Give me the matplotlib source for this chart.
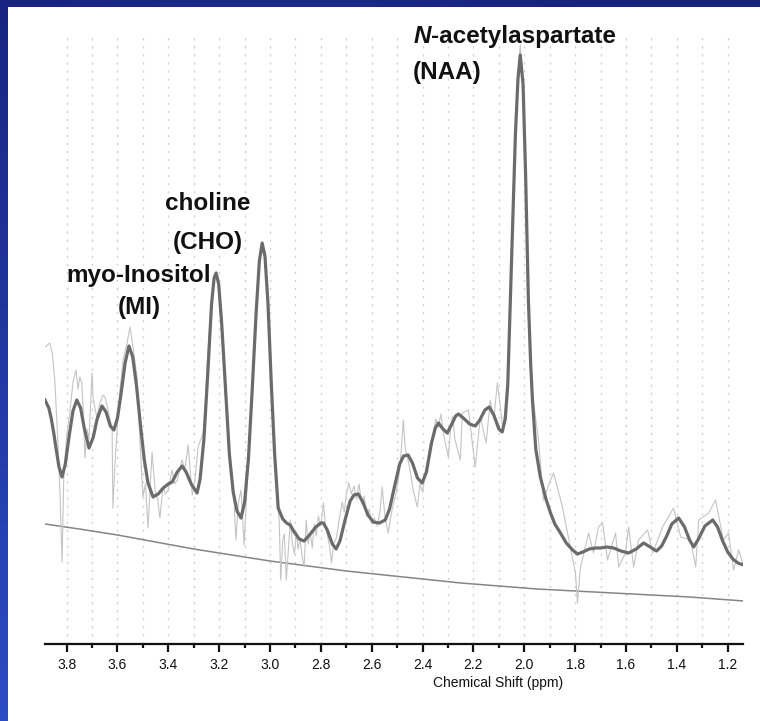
import numpy as np
import matplotlib
matplotlib.use("Agg")
import matplotlib.pyplot as plt
from matplotlib.patches import Rectangle
from matplotlib.ticker import MultipleLocator, FormatStrFormatter

plt.rcParams['font.family'] = ['Liberation Sans', 'DejaVu Sans']

# ---------------- data (ppm, arbitrary intensity) ----------------
fit_ppm = [3.885, 3.87, 3.86, 3.85, 3.84, 3.83, 3.818, 3.805, 3.79, 3.775, 3.76, 3.745, 3.73, 3.712,
           3.695, 3.68, 3.661, 3.645, 3.628, 3.614, 3.60, 3.585, 3.57, 3.555, 3.54, 3.525, 3.51, 3.495,
           3.48, 3.46, 3.44, 3.42, 3.40, 3.385, 3.365, 3.346, 3.33, 3.31, 3.287, 3.275, 3.26, 3.245,
           3.23, 3.22, 3.212, 3.202, 3.19, 3.175, 3.16, 3.145, 3.13, 3.114, 3.10, 3.085, 3.07, 3.055,
           3.042, 3.031, 3.02, 3.008, 2.995, 2.982, 2.968, 2.95, 2.935, 2.921, 2.905, 2.885, 2.866,
           2.845, 2.82, 2.80, 2.79, 2.775, 2.755, 2.74, 2.725, 2.705, 2.685, 2.67, 2.653, 2.635, 2.615,
           2.594, 2.57, 2.547, 2.53, 2.51, 2.49, 2.475, 2.457, 2.44, 2.42, 2.402, 2.385, 2.365, 2.35,
           2.338, 2.32, 2.303, 2.285, 2.27, 2.259, 2.24, 2.215, 2.193, 2.175, 2.155, 2.138, 2.12, 2.10,
           2.087, 2.075, 2.065, 2.055, 2.045, 2.035, 2.025, 2.016, 2.005, 1.995, 1.984, 1.975, 1.968,
           1.955, 1.937, 1.915, 1.897, 1.88, 1.858, 1.835, 1.81, 1.791, 1.77, 1.745, 1.72, 1.70, 1.675,
           1.649, 1.62, 1.59, 1.56, 1.531, 1.505, 1.48, 1.46, 1.44, 1.42, 1.393, 1.37, 1.35, 1.334,
           1.315, 1.29, 1.259, 1.24, 1.22, 1.20, 1.18, 1.16, 1.137]
fit_int = [244, 236, 225, 210, 193, 177, 167, 180, 208, 233, 244, 236, 215, 196,
           207, 225, 238, 232, 218, 214, 226, 252, 281, 298, 287, 258, 220, 185,
           161, 147, 150, 156, 160, 162, 172, 178, 172, 160, 151, 165, 205, 270,
           340, 366, 371, 360, 320, 255, 190, 152, 133, 126, 142, 185, 255, 330,
           383, 401, 388, 340, 260, 190, 136, 125, 121, 119, 112, 105, 103,
           109, 117, 121, 121, 114, 100, 95, 103, 124, 143, 149, 150, 142, 129,
           122, 121, 124, 135, 158, 180, 188, 189, 181, 166, 161, 172, 201, 216,
           221, 215, 211, 220, 228, 230, 226, 220, 218, 224, 234, 237, 229, 215,
           212, 225, 260, 344, 430, 510, 565, 589, 560, 470, 344, 280, 244,
           195, 167, 145, 131, 120, 111, 101, 94, 90, 92, 95, 96, 96, 97,
           96, 93, 91, 95, 101, 97, 93, 98, 108, 120, 126, 117, 104, 97,
           105, 118, 124, 117, 103, 92, 85, 81, 79]

raw_ppm = [3.885, 3.866, 3.856, 3.846, 3.834, 3.826, 3.818, 3.811, 3.799, 3.787, 3.775, 3.763, 3.755,
           3.748, 3.740, 3.734, 3.728, 3.720, 3.712, 3.700, 3.696, 3.688, 3.681, 3.670, 3.657, 3.649,
           3.637, 3.621, 3.618, 3.610, 3.602, 3.590, 3.578, 3.563, 3.551, 3.539, 3.523, 3.511, 3.500,
           3.490, 3.480, 3.464, 3.452, 3.442, 3.433, 3.421, 3.411, 3.401, 3.385, 3.375, 3.365, 3.346,
           3.335, 3.322, 3.306, 3.294, 3.283, 3.263, 3.255, 3.245, 3.235, 3.225, 3.215, 3.205, 3.195,
           3.185, 3.175, 3.165, 3.156, 3.145, 3.134, 3.125, 3.114, 3.102, 3.092, 3.082, 3.070, 3.060,
           3.050, 3.040, 3.031, 3.020, 3.010, 3.000, 2.990, 2.980, 2.972, 2.964, 2.958, 2.950, 2.944,
           2.936, 2.928, 2.920, 2.912, 2.904, 2.896, 2.890, 2.882, 2.874, 2.866, 2.858, 2.850, 2.842,
           2.834, 2.826, 2.818, 2.810, 2.800, 2.790, 2.782, 2.774, 2.766, 2.758, 2.750, 2.738, 2.728,
           2.716, 2.708, 2.700, 2.690, 2.680, 2.670, 2.660, 2.650, 2.640, 2.630, 2.620, 2.610, 2.600,
           2.590, 2.578, 2.568, 2.559, 2.547, 2.535, 2.525, 2.515, 2.505, 2.495, 2.485, 2.476, 2.468,
           2.458, 2.448, 2.437, 2.421, 2.410, 2.400, 2.390, 2.380, 2.370, 2.358, 2.348, 2.338, 2.328,
           2.318, 2.299, 2.290, 2.282, 2.273, 2.252, 2.244, 2.220, 2.193, 2.173, 2.150, 2.134, 2.120,
           2.106, 2.094, 2.085, 2.075, 2.065, 2.055, 2.045, 2.035, 2.025, 2.016, 2.005, 1.995, 1.984,
           1.975, 1.968, 1.944, 1.925, 1.897, 1.885, 1.850, 1.830, 1.799, 1.791, 1.779, 1.747, 1.728,
           1.708, 1.692, 1.673, 1.641, 1.629, 1.602, 1.590, 1.570, 1.551, 1.515, 1.495, 1.456, 1.413,
           1.385, 1.346, 1.326, 1.314, 1.275, 1.248, 1.217, 1.197, 1.177, 1.157, 1.141]
raw_int = [297, 301, 290, 262, 200, 150, 82, 170, 210, 232, 262, 274, 255,
           267, 261, 230, 186, 215, 205, 271, 247, 235, 227, 240, 249, 247,
           234, 214, 136, 180, 211, 254, 284, 300, 317, 297, 267, 200, 147,
           160, 116, 192, 154, 145, 126, 157, 150, 154, 174, 160, 164, 184,
           175, 199, 149, 167, 197, 211, 240, 290, 325, 355, 368, 362, 330,
           290, 245, 205, 181, 160, 104, 140, 154, 99, 150, 200, 255, 305,
           355, 390, 400, 392, 350, 285, 230, 180, 150, 124, 64, 104, 110,
           64, 94, 124, 100, 90, 112, 95, 105, 88, 77, 124, 100, 112,
           96, 120, 108, 128, 118, 141, 118, 108, 98, 81, 100, 107, 125,
           142, 132, 150, 161, 150, 158, 145, 160, 140, 148, 128, 135, 120,
           126, 118, 132, 157, 125, 111, 128, 140, 150, 165, 190, 224, 195,
           185, 172, 154, 137, 160, 152, 170, 185, 200, 211, 225, 217, 230,
           210, 187, 215, 228, 205, 184, 231, 234, 177, 227, 201, 244, 225,
           261, 237, 215, 235, 270, 350, 440, 515, 570, 599, 565, 465, 350,
           290, 250, 204, 144, 164, 171, 137, 111, 71, 41, 77, 111, 91,
           117, 121, 84, 111, 77, 91, 117, 77, 104, 114, 91, 117, 136,
           107, 104, 77, 124, 131, 144, 104, 111, 74, 94, 81]

base_ppm = [3.885, 3.75, 3.60, 3.45, 3.30, 3.15, 3.00, 2.85, 2.70, 2.55, 2.40, 2.25, 2.10,
            1.95, 1.80, 1.65, 1.50, 1.35, 1.137]
base_int = [120, 115, 109, 102, 95, 89, 83, 78, 73, 69, 65, 61, 58,
            55, 53, 51, 49, 47, 43]

major_ticks = [3.8, 3.6, 3.4, 3.2, 3.0, 2.8, 2.6, 2.4, 2.2, 2.0, 1.8, 1.6, 1.4, 1.2]

# ---------------- figure ----------------
W, H = 760, 721
fig = plt.figure(figsize=(W / 100, H / 100), dpi=100)

# blue gradient frame
bg = fig.add_axes([0, 0, 1, 1], zorder=-10)
yy, xx = np.mgrid[0:1:200j, 0:1:200j]
top = np.array([24, 34, 125]) / 255.0
bot = np.array([44, 76, 196]) / 255.0
grad = top[None, None, :] * (1 - yy[..., None]) + bot[None, None, :] * yy[..., None]
bump = (np.exp(-((xx - 0.35) / 0.3) ** 2) * 0.05)[..., None] * np.array([0.3, 0.5, 1.0])
grad = np.clip(grad + bump * (1 - yy[..., None]), 0, 1)
bg.imshow(grad, extent=[0, 1, 0, 1], aspect='auto', origin='upper')
bg.add_patch(Rectangle((8 / W, 0), 1 - 8 / W, (H - 7) / H, facecolor='white',
                       edgecolor='none', transform=bg.transAxes))
bg.set_xlim(0, 1)
bg.set_ylim(0, 1)
bg.axis('off')

# main axes
left, right = 45, 743
bottom_px, top_px = 644, 33
ax = fig.add_axes([left / W, (H - bottom_px) / H, (right - left) / W, (bottom_px - top_px) / H])
ax.set_facecolor('none')
ax.set_xlim(3.885, 1.14)
ax.set_ylim(0, bottom_px - top_px)

for t in np.round(np.arange(1.2, 3.81, 0.1), 1):
    ax.axvline(t, color='#cfcfcf', lw=1.0, linestyle=(0, (1.5, 4.3)), zorder=0)

ax.plot(base_ppm, base_int, color='#858585', lw=1.1, zorder=2)
ax.plot(raw_ppm, raw_int, color='#c4c4c4', lw=0.8, zorder=3)
ax.plot(fit_ppm, fit_int, color='#6b6b6b', lw=2.3, zorder=4, solid_joinstyle='round')

for s in ['left', 'right', 'top']:
    ax.spines[s].set_visible(False)
ax.spines['bottom'].set_linewidth(1.6)
ax.spines['bottom'].set_color('#111111')
ax.set_yticks([])
ax.set_xticks(major_ticks)
ax.xaxis.set_major_formatter(FormatStrFormatter('%.1f'))
ax.xaxis.set_minor_locator(MultipleLocator(0.1))
ax.tick_params(axis='x', which='major', direction='out', length=6, width=1.6,
               labelsize=10, pad=4, colors='#111111')
ax.tick_params(axis='x', which='minor', direction='out', length=3, width=1.6, colors='#111111')

ax.text(0.649, -0.064, 'Chemical Shift (ppm)', transform=ax.transAxes, ha='center',
        va='center', fontsize=10, color='#111111')

# annotations
lab_kw = dict(fontsize=17.5, fontweight='bold', color='#111111', clip_on=False, zorder=6)
tN = ax.text(2.437, 608, 'N', ha='left', va='center', fontstyle='italic', **lab_kw)
ax.annotate('-acetylaspartate', xy=(1, 0), xycoords=tN, ha='left', va='bottom',
            fontsize=17.5, fontweight='bold', color='#111111', zorder=6)
ax.text(2.437, 572, '(NAA)', ha='left', va='center', **lab_kw)
ax.text(3.244, 440, 'choline', ha='center', va='center', **lab_kw)
ax.text(3.244, 402, '(CHO)', ha='center', va='center', **lab_kw)
ax.text(3.515, 369, 'myo-Inositol', ha='center', va='center', **lab_kw)
ax.text(3.515, 337, '(MI)', ha='center', va='center', **lab_kw)

fig.savefig('out.png', dpi=100)
